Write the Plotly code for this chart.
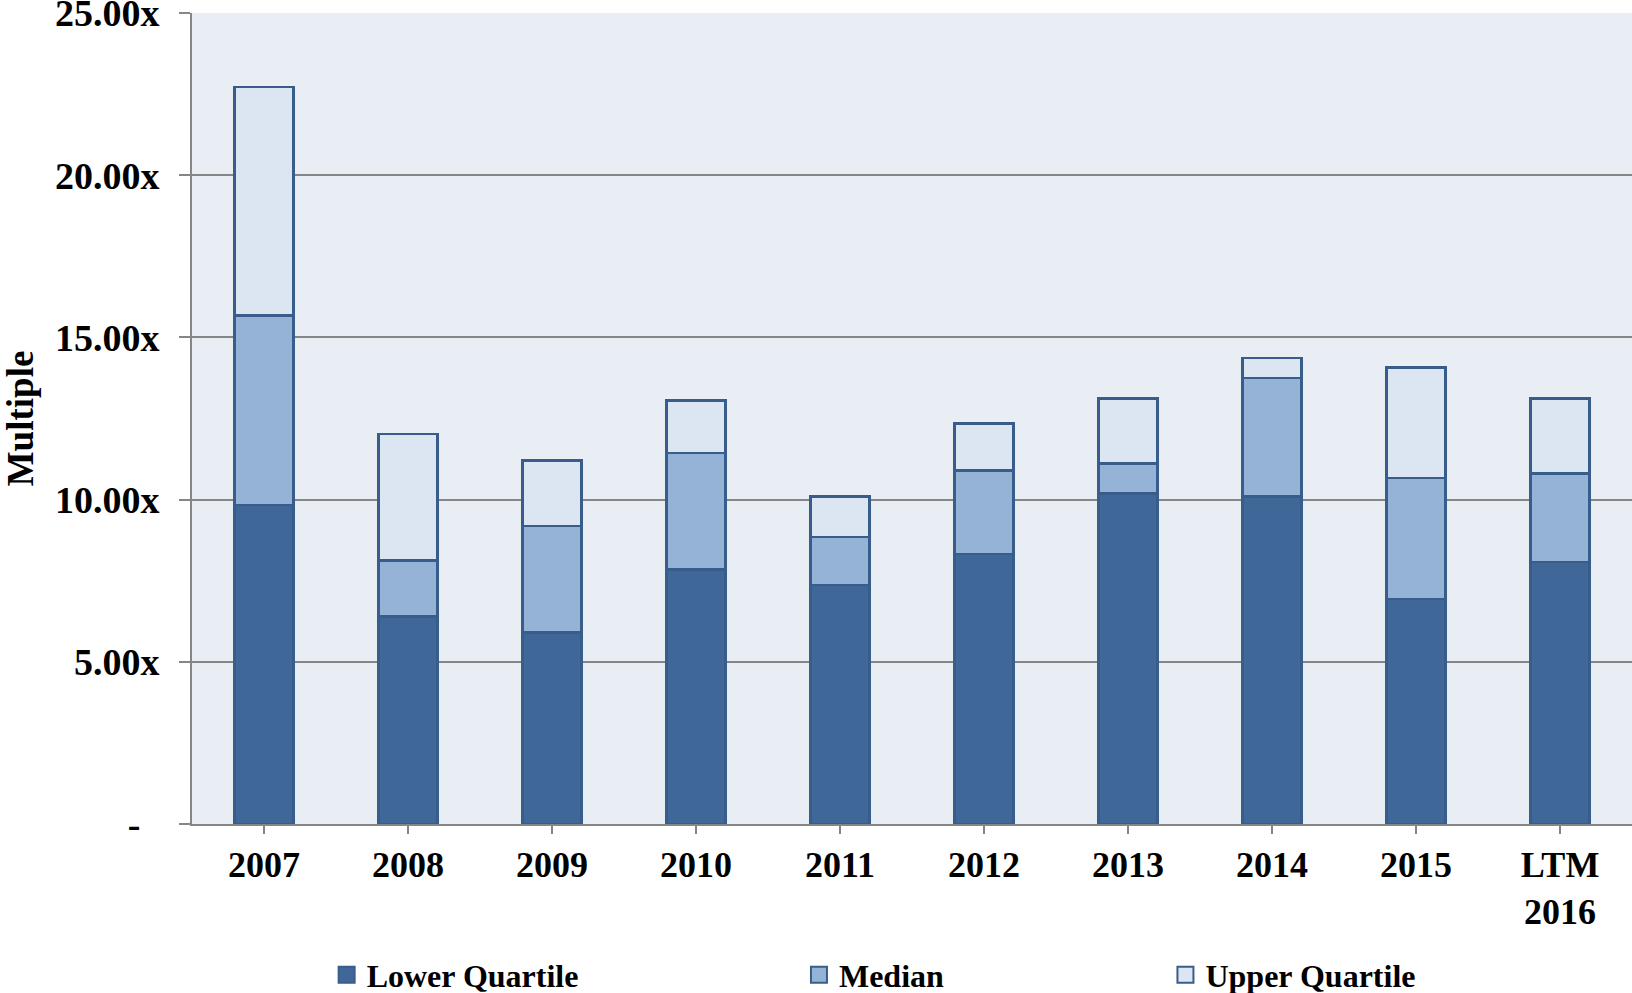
import plotly.graph_objects as go

categories = ["2007", "2008", "2009", "2010", "2011", "2012", "2013", "2014", "2015", "LTM<br>2016"]
lower_quartile = [9.83, 6.39, 5.91, 7.84, 7.36, 8.32, 10.19, 10.09, 6.94, 8.07]
median = [15.68, 8.13, 9.19, 11.44, 8.84, 10.89, 11.12, 13.75, 10.67, 10.80]
upper_quartile = [22.72, 12.02, 11.21, 13.05, 10.09, 12.34, 13.11, 14.36, 14.07, 13.11]
series_names = ["Lower Quartile", "Median", "Upper Quartile"]
series_colors = ["#3F6899", "#95B3D7", "#DCE6F2"]

y_tick_vals = [0, 5, 10, 15, 20, 25]
y_tick_text = ["-\u00a0\u00a0", "5.00x", "10.00x", "15.00x", "20.00x", "25.00x"]

median_seg = [m - l for m, l in zip(median, lower_quartile)]
upper_seg = [u - m for u, m in zip(upper_quartile, median)]
segments = [lower_quartile, median_seg, upper_seg]

OUTLINE_COLOR = "#385D8A"
FONT = "Liberation Serif, Times New Roman, serif"
legend_ids = ["legend", "legend2", "legend3"]

fig = go.Figure()
for name, color, seg in zip(series_names, series_colors, segments):
    fig.add_trace(go.Bar(x=categories, y=seg, name=name, showlegend=False,
                         marker=dict(color=color, line=dict(color=OUTLINE_COLOR, width=2.5))))
# legend-only entries with larger square swatches
for name, color, lid in zip(series_names, series_colors, legend_ids):
    fig.add_trace(go.Scatter(x=[None], y=[None], mode="markers", name=name, legend=lid,
                             showlegend=True, hoverinfo="skip",
                             marker=dict(symbol="square", size=17, color=color,
                                         line=dict(color=OUTLINE_COLOR, width=2))))

leg_common = dict(orientation="h", yanchor="middle", y=-0.186, xanchor="left", visible=True,
                  bgcolor="rgba(0,0,0,0)", font=dict(family=FONT, size=32, color="black", weight="bold"))

fig.update_layout(
    barmode="stack",
    bargap=0.59,
    width=1632, height=993,
    showlegend=True,
    margin=dict(l=192, r=0, t=13, b=169, autoexpand=False),
    paper_bgcolor="white",
    plot_bgcolor="#E9EDF4",
    font=dict(family=FONT, size=34, color="black", weight="bold"),
    legend=dict(x=0.0935, **leg_common),
    legend2=dict(x=0.4215, **leg_common),
    legend3=dict(x=0.676, **leg_common),
    xaxis=dict(
        automargin=False,
        showline=True, linecolor="#868686", linewidth=2,
        ticks="outside", ticklen=8, tickwidth=2, tickcolor="#868686",
        tickfont=dict(family=FONT, size=36, color="black", weight="bold"),
        showgrid=False,
    ),
    yaxis=dict(
        automargin=False,
        range=[0, 25.0001],
        tickvals=y_tick_vals, ticktext=y_tick_text,
        showline=True, linecolor="#868686", linewidth=2,
        ticks="outside", ticklen=11, tickwidth=2, tickcolor="#868686",
        ticklabelstandoff=12,
        ticklabeloverflow="allow",
        showgrid=True, gridcolor="#868686", gridwidth=2,
        zeroline=False,
        tickfont=dict(family=FONT, size=38, color="black", weight="bold"),
        title=dict(text="Multiple", standoff=37,
                   font=dict(family=FONT, size=37, color="black", weight="bold")),
    ),
)

fig.write_html("out.html", config={"displayModeBar": False},
               post_script="document.body.style.margin='0';document.body.style.padding='0';")
